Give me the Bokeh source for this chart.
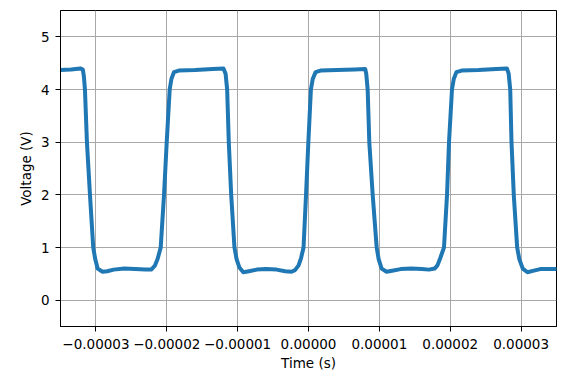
from bokeh.plotting import figure
from bokeh.models import FixedTicker, Range1d
from bokeh.embed import file_html
from bokeh.resources import INLINE

# Time in microseconds, voltage in volts
time_us = [
    -35.5, -33.5, -32.2, -31.85, -31.7,
    -31.55, -31.27, -30.84, -30.38, -30.1, -29.76, -29.06, -28.4, -27.5, -26.0,
    -24.5, -23.0, -22.2, -21.7, -21.3,
    -20.86, -20.39, -20.01, -19.59, -19.35, -18.99, -18.3, -16.0, -13.5, -12.0, -11.7,
    -11.48, -11.25, -10.91, -10.45, -10.15, -9.75, -9.2, -8.4, -7.3, -6.0,
    -4.5, -3.3, -2.4, -1.9, -1.4, -1.05,
    -0.70, -0.35, -0.02, 0.34, 0.6, 1.0, 1.7, 4.0, 6.5, 8.0, 8.15,
    8.35, 8.58, 9.06, 9.62, 9.9, 10.32, 11.02, 11.8, 13.0, 14.5,
    16.0, 17.0, 17.8, 18.2, 18.6,
    19.12, 19.55, 19.83, 20.25, 20.5, 20.87, 21.6, 24.0, 26.5, 28.0, 28.25,
    28.47, 28.65, 28.97, 29.45, 29.75, 30.24, 30.9, 31.8, 32.7, 34.0, 35.5,
]
voltage = [
    4.37, 4.38, 4.40, 4.38, 4.25,
    4.0, 3.0, 2.0, 1.0, 0.78, 0.60, 0.54, 0.55, 0.58, 0.60,
    0.59, 0.58, 0.58, 0.65, 0.78,
    1.0, 2.0, 3.0, 4.0, 4.2, 4.33, 4.36, 4.37, 4.39, 4.40, 4.30,
    4.0, 3.0, 2.0, 1.0, 0.78, 0.62, 0.53, 0.55, 0.58, 0.59,
    0.58, 0.55, 0.54, 0.57, 0.66, 0.80,
    1.0, 2.0, 3.0, 4.0, 4.2, 4.33, 4.36, 4.37, 4.38, 4.39, 4.30,
    4.0, 3.0, 2.0, 1.0, 0.78, 0.60, 0.54, 0.56, 0.59, 0.60,
    0.59, 0.58, 0.60, 0.66, 0.80,
    1.0, 2.0, 3.0, 4.0, 4.2, 4.33, 4.36, 4.37, 4.39, 4.40, 4.30,
    4.0, 3.0, 2.0, 1.0, 0.78, 0.60, 0.53, 0.56, 0.59, 0.59, 0.59,
]
time_s = [t * 1e-6 for t in time_us]

x_ticks = [-3e-05, -2e-05, -1e-05, 0.0, 1e-05, 2e-05, 3e-05]
x_tick_labels = ["\u22120.00003", "\u22120.00002", "\u22120.00001", "0.00000",
                 "0.00001", "0.00002", "0.00003"]
y_ticks = [0, 1, 2, 3, 4, 5]
y_tick_labels = ["0", "1", "2", "3", "4", "5"]

FONT = "DejaVu Sans"
FS = "13.5px"

p = figure(width=574, height=381, output_backend="svg", toolbar_location=None,
           x_range=Range1d(-3.5e-05, 3.5e-05), y_range=Range1d(-0.5, 5.5),
           min_border_left=60, min_border_right=18, min_border_top=10,
           min_border_bottom=55)

p.line(time_s, voltage, line_color="#1f77b4", line_width=4, line_join="round")

p.xaxis.ticker = FixedTicker(ticks=x_ticks)
p.xaxis.major_label_overrides = dict(zip(x_ticks, x_tick_labels))
p.yaxis.ticker = FixedTicker(ticks=y_ticks)
p.yaxis.major_label_overrides = dict(zip(y_ticks, y_tick_labels))

p.xaxis.axis_label = "Time (s)"
p.yaxis.axis_label = "Voltage (V)"

for ax in (p.xaxis, p.yaxis):
    ax.axis_line_color = "black"
    ax.major_tick_line_color = "black"
    ax.minor_tick_line_color = None
    ax.major_tick_in = 0
    ax.major_tick_out = 5
    ax.major_label_text_font = FONT
    ax.major_label_text_font_size = FS
    ax.major_label_text_color = "black"
    ax.axis_label_text_font = FONT
    ax.axis_label_text_font_size = FS
    ax.axis_label_text_font_style = "normal"
    ax.axis_label_text_color = "black"

p.xaxis.major_label_standoff = 7
p.xaxis.axis_label_standoff = 3
p.yaxis.major_label_standoff = 6
p.yaxis.axis_label_standoff = 4

p.xgrid.ticker = FixedTicker(ticks=x_ticks)
p.ygrid.ticker = FixedTicker(ticks=y_ticks)
p.grid.grid_line_color = "#a8a8a8"
p.grid.grid_line_width = 1

p.outline_line_color = "black"
p.outline_line_width = 1
p.outline_line_alpha = 1
p.background_fill_color = "white"
p.border_fill_color = "white"

open("out.html", "w").write(file_html(p, INLINE))
